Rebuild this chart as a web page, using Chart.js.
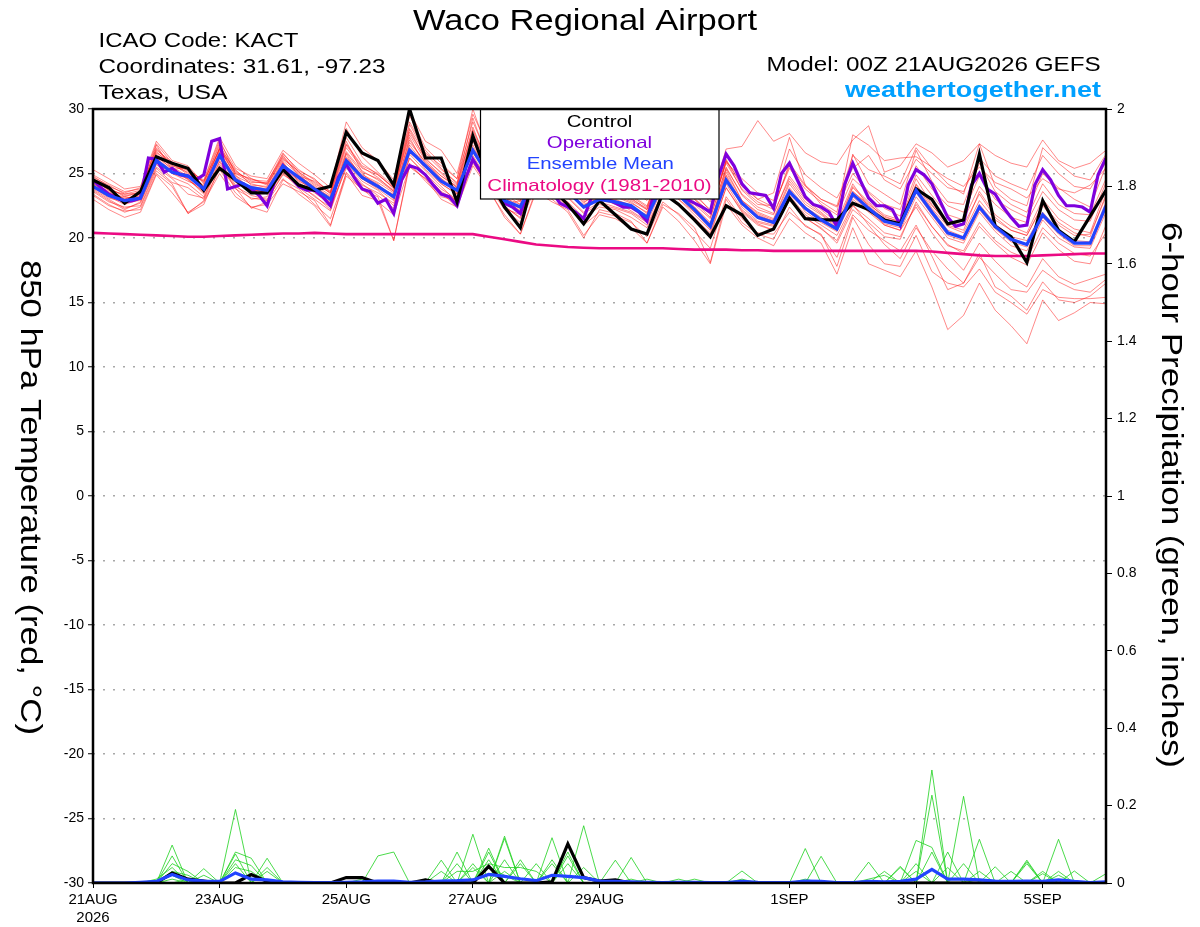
<!DOCTYPE html>
<html lang="en">
<head>
  <meta charset="UTF-8" />
  <title>Waco Regional Airport | GEFS 850 hPa</title>
  <script src="https://cdn.jsdelivr.net/npm/chart.js"></script>
  <style>
    html, body { margin: 0; padding: 0; background: #fff; }
    canvas { display: block; }
  </style>
</head>
<body>
  <canvas id="gefsChart" width="1200" height="927"></canvas>

  <script>
    // Forecast hours run 00Z 21AUG2026 .. +384h (6-hourly, operational 3-hourly)
    const xTickHours = [0, 48, 96, 144, 192, 264, 312, 360];
    const xTickLabels = [["21AUG", "2026"], "23AUG", "25AUG", "27AUG", "29AUG", "1SEP", "3SEP", "5SEP"];

    // 850 hPa temperature, deg C, every 6h
    const controlTemp = [
      24.5, 23.9, 22.7, 23.6, 26.3, 25.8, 25.4, 23.7, 25.4, 24.5, 23.5, 23.5, 25.3, 24.1, 23.7, 24.0,
      28.2, 26.6, 26.0, 24.1, 30.0, 26.2, 26.2, 22.8, 27.9, 24.6, 22.4, 20.8, 25.4, 23.8, 22.6, 21.1,
      22.9, 21.8, 20.7, 20.3, 23.5, 22.6, 21.4, 20.1, 22.5, 21.8, 20.2, 20.7, 23.1, 21.5, 21.4, 21.4,
      22.7, 22.2, 21.4, 21.1, 23.8, 23.0, 21.1, 21.4, 26.5, 20.9, 20.1, 18.1, 22.9, 20.6, 19.7, 21.7,
      23.7
    ];
    const meanTemp = [
      24.0, 23.3, 22.9, 23.1, 26.0, 25.1, 24.8, 23.8, 26.4, 24.5, 23.9, 23.7, 25.6, 24.7, 23.8, 23.0,
      26.0, 24.7, 24.0, 23.2, 26.8, 25.6, 24.4, 23.7, 26.8, 24.8, 22.9, 22.4, 25.0, 24.2, 23.6, 22.4,
      23.0, 22.8, 22.5, 21.6, 24.2, 23.3, 22.2, 20.9, 24.5, 22.7, 21.6, 21.2, 23.6, 22.3, 21.4, 20.7,
      23.4, 22.3, 21.3, 21.0, 23.7, 22.0, 20.4, 20.0, 22.4, 20.9, 19.9, 19.5, 21.8, 20.5, 19.6, 19.6,
      22.5
    ];
    const climTemp = [
      20.4, 20.35, 20.3, 20.25, 20.2, 20.15, 20.1, 20.1, 20.15, 20.2, 20.25, 20.3, 20.35, 20.35, 20.4, 20.35,
      20.3, 20.3, 20.3, 20.3, 20.3, 20.3, 20.3, 20.3, 20.3, 20.1, 19.9, 19.7, 19.5, 19.4, 19.3, 19.25,
      19.2, 19.2, 19.2, 19.2, 19.2, 19.15, 19.1, 19.1, 19.1, 19.05, 19.05, 19.0, 19.0, 19.0, 19.0, 19.0,
      19.0, 19.0, 19.0, 19.0, 19.0, 18.95, 18.85, 18.75, 18.65, 18.6, 18.6, 18.6, 18.65, 18.7, 18.75, 18.8,
      18.8
    ];
    // operational run, every 3h
    const operTemp = [
      24.5, 23.9, 23.4, 23.1, 22.8, 22.9, 23.1, 26.2, 26.1, 25.1, 25.4, 24.9, 24.8, 24.5, 24.9, 27.5,
      27.7, 23.8, 24.0, 24.2, 23.8, 23.3, 22.5, 24.5, 25.6, 24.7, 24.0, 23.7, 23.7, 23.2, 22.5, 24.7,
      25.7, 24.7, 23.8, 23.6, 22.7, 23.0, 21.9, 24.5, 25.6, 25.4, 24.9, 24.1, 23.4, 23.2, 22.5, 24.5,
      26.1, 25.1, 24.2, 23.4, 22.7, 22.4, 21.9, 23.8, 25.0, 24.4, 23.6, 22.7, 22.4, 22.0, 21.5, 23.2,
      23.6, 23.0, 22.7, 22.4, 22.4, 22.0, 21.3, 23.8, 25.0, 24.6, 23.8, 23.0, 22.7, 22.4, 22.0, 24.7,
      26.5, 25.6, 24.2, 23.5, 23.4, 23.3, 22.3, 25.0, 25.8, 24.5, 23.2, 22.6, 22.4, 22.0, 20.9, 24.2,
      25.8, 24.4, 23.1, 22.5, 22.5, 22.2, 21.0, 24.1, 25.3, 24.9, 24.2, 22.9, 21.6, 20.9, 21.1, 24.1,
      25.0, 23.8, 23.4, 22.4, 21.6, 20.9, 21.0, 24.1, 25.3, 24.5, 23.3, 22.5, 22.5, 22.4, 22.0, 24.9,
      26.2
    ];

    // ensemble members (red), every 6h
    const m01 = [
      25.3, 24.6, 23.8, 24.0, 27.5, 26.0, 25.6, 24.2, 27.4, 25.4, 24.8, 24.6, 26.8, 25.8, 24.9, 23.9,
      29.0, 27.0, 26.0, 24.5, 29.8, 27.5, 26.8, 25.0, 29.6, 27.0, 25.5, 24.0, 28.5, 26.5, 25.2, 24.0,
      25.5, 24.6, 23.8, 22.9, 26.8, 25.6, 24.0, 22.8, 26.9, 27.1, 29.1, 27.5, 28.1, 26.6, 25.9, 25.7,
      27.6, 28.7, 25.1, 25.6, 27.3, 26.6, 25.5, 26.0, 27.3, 26.4, 25.8, 25.5, 27.6, 26.0, 25.4, 25.8,
      26.8
    ];
    const m02 = [
      24.8, 24.0, 23.5, 23.9, 27.3, 25.8, 25.2, 24.5, 27.8, 25.6, 24.6, 24.2, 26.5, 25.3, 24.5, 23.6,
      28.5, 26.3, 25.1, 24.0, 29.5, 27.0, 25.8, 24.6, 30.0, 26.5, 24.5, 23.5, 27.2, 25.8, 24.6, 23.3,
      24.4, 23.9, 23.2, 22.4, 25.8, 24.5, 23.0, 22.0, 26.0, 24.2, 23.0, 23.5, 27.8, 24.1, 23.0, 22.5,
      26.4, 25.3, 24.8, 24.2, 27.0, 25.4, 24.6, 24.0, 25.5, 24.3, 23.8, 23.1, 24.6, 23.8, 23.5, 24.1,
      25.4
    ];
    const m03 = [
      24.2, 23.5, 23.0, 23.4, 26.3, 25.4, 24.5, 23.6, 26.8, 24.9, 23.6, 23.8, 25.9, 24.3, 23.5, 22.6,
      26.2, 24.9, 24.3, 23.5, 27.6, 25.8, 24.8, 23.9, 27.5, 25.0, 23.2, 22.0, 25.6, 24.5, 23.9, 22.8,
      23.4, 22.9, 22.1, 21.3, 24.9, 23.6, 22.4, 21.2, 25.1, 22.9, 22.0, 21.5, 24.4, 22.8, 21.9, 20.9,
      24.0, 22.8, 21.8, 21.4, 24.1, 22.3, 20.9, 20.4, 22.9, 21.4, 20.6, 20.2, 22.5, 21.0, 20.2, 20.3,
      23.2
    ];
    const m04 = [
      23.6, 22.8, 22.4, 22.5, 25.4, 24.3, 23.9, 23.0, 25.7, 24.0, 23.3, 23.0, 24.9, 24.2, 23.2, 22.4,
      25.4, 24.1, 23.5, 22.7, 26.2, 25.0, 23.8, 23.0, 26.1, 24.2, 22.3, 21.8, 24.6, 23.7, 23.1, 21.9,
      22.6, 22.3, 21.9, 21.0, 23.5, 22.5, 21.5, 20.4, 23.9, 22.0, 21.0, 20.6, 22.9, 21.6, 20.7, 19.8,
      22.5, 21.5, 20.4, 20.1, 22.6, 20.9, 19.5, 18.8, 20.9, 19.6, 18.5, 17.9, 20.4, 19.1, 18.2, 18.0,
      21.0
    ];
    const m05 = [
      23.0, 22.2, 21.6, 22.0, 24.9, 23.5, 22.0, 22.8, 25.0, 23.2, 22.4, 22.6, 24.2, 23.6, 22.9, 21.0,
      24.8, 23.8, 22.8, 21.8, 25.5, 24.6, 23.0, 22.4, 25.6, 23.8, 21.6, 20.3, 23.6, 22.8, 22.2, 20.2,
      21.8, 21.5, 20.8, 19.6, 22.4, 21.3, 19.8, 18.0, 22.6, 21.0, 20.0, 19.4, 21.5, 20.4, 19.6, 17.2,
      20.8, 18.0, 17.5, 17.0, 19.0, 16.2, 12.9, 14.0, 16.5, 14.4, 13.2, 11.8, 15.2, 13.6, 14.2, 15.0,
      14.9
    ];
    const m06 = [
      23.3, 22.5, 22.1, 22.2, 25.0, 24.0, 21.9, 22.9, 25.3, 23.5, 22.4, 22.0, 24.5, 23.8, 22.6, 21.5,
      25.0, 23.3, 22.9, 19.8, 25.8, 24.4, 23.2, 22.9, 25.8, 24.0, 22.2, 21.2, 24.0, 23.4, 22.5, 21.0,
      22.0, 21.7, 21.2, 20.1, 22.8, 21.8, 20.5, 19.2, 23.2, 21.5, 20.4, 20.3, 22.0, 21.0, 20.2, 18.5,
      21.8, 20.6, 19.8, 19.0, 21.0, 18.6, 16.0, 16.5, 18.8, 16.2, 15.5, 14.4, 16.6, 15.2, 15.0, 15.5,
      16.5
    ];
    const m07 = [
      24.6, 23.9, 23.2, 23.6, 26.8, 25.9, 25.0, 24.4, 26.9, 25.2, 24.4, 24.2, 26.2, 25.0, 24.1, 23.3,
      27.0, 25.4, 24.9, 23.9, 28.5, 26.5, 25.3, 24.3, 28.4, 25.8, 23.8, 23.0, 26.4, 25.1, 24.5, 23.1,
      23.9, 23.5, 22.9, 22.2, 25.4, 24.3, 23.0, 21.8, 26.0, 23.7, 22.6, 22.5, 25.4, 23.8, 22.8, 22.0,
      28.0, 27.2, 26.0, 26.2, 26.3, 25.5, 24.2, 23.4, 27.3, 24.0, 23.0, 22.5, 27.0, 25.8, 24.8, 24.5,
      26.5
    ];
    const m08 = [
      24.0, 23.2, 22.6, 23.0, 26.1, 25.0, 24.6, 23.4, 26.2, 24.3, 23.8, 23.5, 25.4, 24.5, 23.6, 22.8,
      26.5, 24.6, 23.8, 22.9, 27.0, 25.3, 24.2, 23.4, 26.9, 24.6, 22.6, 22.9, 25.2, 24.0, 23.4, 22.6,
      23.1, 22.6, 22.3, 21.8, 24.5, 23.0, 22.0, 21.0, 24.8, 22.4, 21.3, 21.0, 23.8, 22.0, 21.2, 20.5,
      23.0, 22.0, 21.0, 20.6, 23.2, 21.6, 20.0, 19.6, 22.0, 20.5, 19.4, 19.0, 21.4, 20.0, 19.3, 19.2,
      22.0
    ];
    const m09 = [
      23.8, 23.0, 22.3, 22.7, 25.7, 24.7, 24.2, 23.2, 26.0, 24.1, 23.0, 23.2, 25.1, 24.0, 23.3, 22.2,
      25.8, 24.4, 23.7, 22.5, 26.5, 25.2, 24.0, 22.8, 26.4, 24.4, 22.5, 21.5, 24.9, 23.8, 23.2, 22.0,
      22.8, 22.4, 22.0, 21.2, 23.9, 23.0, 21.8, 20.6, 24.2, 22.2, 21.2, 20.9, 23.3, 21.8, 21.0, 20.2,
      22.6, 21.0, 19.5, 18.4, 20.8, 19.0, 17.6, 16.5, 18.5, 17.2, 16.0, 15.8, 17.5, 16.6, 16.0, 15.8,
      16.8
    ];
    const m10 = [
      24.4, 23.8, 23.3, 23.4, 26.7, 25.6, 25.1, 24.0, 27.0, 24.8, 24.2, 23.9, 26.0, 24.9, 23.9, 23.2,
      26.7, 25.2, 24.5, 23.6, 28.0, 26.0, 24.8, 24.0, 28.3, 25.4, 23.4, 22.6, 26.0, 25.0, 24.2, 22.9,
      23.6, 23.2, 22.7, 22.0, 25.0, 24.0, 22.6, 21.5, 25.5, 23.3, 22.2, 21.8, 24.8, 23.2, 22.2, 21.2,
      24.2, 22.4, 21.0, 20.6, 22.4, 20.4, 18.8, 17.5, 19.6, 18.2, 17.0, 16.2, 18.4, 17.0, 16.4, 16.8,
      17.2
    ];
    const m11 = [
      24.1, 23.4, 23.1, 23.2, 26.5, 25.5, 24.8, 23.7, 26.6, 24.7, 23.9, 23.4, 25.8, 24.6, 23.7, 22.9,
      26.0, 24.8, 24.1, 23.3, 27.2, 25.6, 24.4, 23.6, 27.2, 24.9, 23.0, 22.3, 25.4, 24.3, 23.7, 22.5,
      23.3, 22.8, 22.4, 21.5, 24.6, 23.4, 22.3, 20.9, 24.9, 22.7, 21.7, 21.3, 23.9, 22.4, 21.6, 20.6,
      23.6, 22.6, 21.7, 21.2, 24.2, 22.5, 21.2, 21.0, 23.4, 21.6, 20.6, 20.2, 22.6, 21.2, 20.4, 20.1,
      23.4
    ];
    const m12 = [
      24.9, 24.2, 23.6, 23.8, 26.9, 25.7, 25.4, 24.3, 27.2, 25.1, 24.5, 24.4, 26.3, 25.1, 24.2, 23.5,
      27.3, 25.6, 25.0, 23.8, 28.8, 26.6, 25.6, 24.6, 29.0, 26.2, 24.0, 23.2, 26.8, 25.4, 24.8, 23.5,
      24.2, 23.8, 23.3, 22.5, 25.6, 24.6, 23.3, 22.2, 26.1, 24.0, 23.0, 22.4, 25.6, 24.0, 23.0, 22.4,
      25.0, 23.6, 22.6, 22.2, 25.6, 23.8, 22.5, 22.0, 24.8, 23.0, 22.2, 21.6, 24.2, 22.6, 21.9, 21.8,
      24.6
    ];
    const m13 = [
      23.9, 23.1, 22.8, 22.9, 25.8, 25.0, 24.4, 23.9, 26.3, 24.6, 23.7, 23.6, 25.5, 24.8, 24.0, 23.1,
      25.9, 24.6, 23.9, 23.4, 26.6, 25.7, 24.6, 23.8, 26.6, 24.9, 23.1, 22.6, 25.1, 24.4, 23.5, 22.3,
      22.9, 22.7, 22.4, 21.7, 24.0, 23.2, 22.0, 20.7, 24.3, 22.6, 21.5, 21.1, 23.4, 22.2, 21.3, 20.6,
      23.2, 22.1, 21.1, 20.8, 23.5, 21.8, 20.2, 19.8, 22.2, 20.7, 19.7, 19.3, 21.6, 20.3, 19.4, 19.4,
      22.3
    ];
    const m14 = [
      24.3, 23.6, 22.9, 23.3, 26.2, 25.2, 24.9, 23.6, 26.5, 24.4, 24.0, 23.8, 25.7, 24.6, 23.9, 23.0,
      26.3, 24.8, 24.2, 23.0, 27.4, 25.9, 24.6, 23.5, 27.0, 25.1, 23.3, 22.2, 25.3, 24.1, 23.5, 22.4,
      23.2, 22.9, 22.6, 21.5, 24.4, 23.4, 22.3, 21.1, 24.6, 22.8, 21.8, 21.3, 23.7, 22.4, 21.5, 20.8,
      23.6, 22.5, 21.5, 21.1, 23.9, 22.2, 20.6, 20.1, 22.6, 21.1, 20.1, 19.8, 22.0, 20.6, 19.8, 19.7,
      22.8
    ];
    const m15 = [
      23.4, 22.6, 22.0, 22.4, 25.2, 24.2, 21.9, 22.6, 25.5, 23.9, 22.3, 22.8, 24.6, 23.4, 22.5, 20.9,
      25.1, 23.7, 23.2, 19.8, 25.6, 24.6, 23.5, 22.4, 26.0, 23.7, 21.8, 20.3, 23.8, 23.0, 22.0, 20.0,
      22.2, 21.9, 21.3, 19.6, 22.6, 21.9, 20.8, 18.1, 23.0, 21.2, 20.3, 19.9, 22.4, 20.9, 20.3, 17.8,
      21.6, 19.5, 18.0, 17.8, 20.2, 17.4, 16.5, 16.2, 17.6, 15.8, 15.0, 14.1, 16.0, 15.4, 15.3, 15.3,
      15.4
    ];
    const m16 = [
      24.7, 24.1, 23.4, 23.7, 27.0, 25.6, 25.3, 24.4, 27.6, 25.0, 24.3, 24.3, 26.6, 25.1, 24.3, 23.5,
      27.8, 25.8, 24.9, 23.9, 29.0, 26.8, 25.4, 24.2, 29.3, 25.9, 24.1, 23.2, 26.9, 25.5, 24.4, 23.2,
      24.0, 23.6, 23.0, 22.3, 25.9, 24.8, 23.5, 22.1, 25.8, 23.8, 22.8, 22.2, 25.8, 24.1, 22.6, 21.8,
      24.6, 23.5, 22.3, 21.7, 24.9, 23.3, 21.8, 21.4, 24.0, 22.6, 21.6, 21.2, 23.6, 22.2, 21.4, 21.3,
      24.3
    ];
    const m17 = [
      24.6, 23.7, 23.0, 23.5, 27.2, 25.3, 25.5, 23.9, 27.0, 25.3, 24.1, 24.0, 26.4, 24.8, 24.4, 23.6,
      27.5, 25.1, 24.6, 23.7, 28.2, 26.2, 25.0, 23.9, 28.0, 25.6, 23.6, 22.8, 26.5, 24.8, 24.0, 22.7,
      23.7, 23.3, 22.8, 21.9, 25.2, 23.9, 22.8, 21.6, 25.4, 23.4, 22.4, 21.9, 24.6, 23.0, 22.0, 21.0,
      26.5, 24.2, 23.4, 22.6, 26.8, 24.4, 22.8, 22.6, 25.8, 23.6, 22.6, 22.0, 25.0, 23.9, 23.0, 22.4,
      25.6
    ];
    const m18 = [
      23.7, 22.9, 22.2, 22.8, 25.5, 24.6, 23.4, 23.1, 25.9, 23.8, 23.1, 22.9, 25.0, 23.9, 23.0, 22.1,
      25.6, 24.2, 23.3, 22.3, 26.2, 24.9, 23.6, 22.9, 26.2, 24.3, 22.4, 21.6, 24.4, 23.5, 22.8, 21.6,
      22.4, 22.2, 21.6, 20.8, 23.6, 22.7, 21.6, 20.2, 23.9, 22.1, 21.1, 20.6, 23.0, 21.5, 20.8, 19.6,
      22.2, 21.2, 20.1, 19.9, 22.8, 20.9, 19.4, 19.0, 21.2, 19.8, 18.9, 18.4, 20.8, 19.6, 18.8, 18.6,
      20.4
    ];
    const m19 = [
      24.2, 23.4, 23.2, 23.0, 26.4, 25.3, 24.6, 23.5, 26.7, 24.6, 23.5, 23.6, 25.8, 24.4, 23.8, 22.7,
      26.6, 25.0, 24.0, 23.1, 27.8, 25.5, 24.2, 23.4, 27.8, 25.2, 23.0, 22.1, 25.5, 24.4, 23.8, 22.4,
      23.5, 23.0, 22.5, 21.4, 24.8, 23.5, 22.4, 21.0, 25.3, 22.9, 21.9, 21.4, 24.2, 22.6, 21.8, 20.8,
      23.9, 22.7, 21.6, 21.3, 24.6, 22.6, 21.0, 20.6, 23.6, 21.8, 20.9, 20.4, 23.0, 21.5, 20.7, 20.4,
      23.8
    ];
    const m20 = [
      24.5, 23.7, 23.4, 23.5, 26.6, 25.8, 24.9, 24.1, 26.9, 25.0, 24.6, 24.1, 26.1, 25.2, 24.6, 23.4,
      27.2, 25.5, 24.7, 23.6, 28.4, 26.1, 25.1, 24.1, 28.6, 25.5, 23.7, 22.9, 26.2, 25.2, 24.3, 23.0,
      23.8, 23.4, 23.1, 22.2, 25.1, 24.1, 23.1, 21.9, 25.9, 24.6, 23.5, 22.9, 26.9, 24.9, 23.9, 23.1,
      25.4, 26.4, 24.5, 23.8, 26.1, 25.0, 23.9, 23.6, 26.2, 24.8, 24.2, 23.7, 26.4, 25.0, 24.0, 23.8,
      25.9
    ];
    const tempMembers = [m01, m02, m03, m04, m05, m06, m07, m08, m09, m10,
                         m11, m12, m13, m14, m15, m16, m17, m18, m19, m20];

    // 6-hour precipitation, inches, every 6h
    const controlPrecip = [
      0, 0, 0, 0, 0, 0.026, 0.01, 0.005, 0, 0, 0.022, 0.004, 0, 0, 0, 0,
      0.014, 0.014, 0, 0, 0, 0.008, 0, 0, 0, 0.043, 0, 0, 0, 0.003, 0.101, 0.014,
      0.005, 0.008, 0, 0, 0, 0, 0, 0, 0, 0, 0, 0, 0, 0, 0, 0,
      0, 0, 0, 0, 0, 0, 0, 0, 0, 0, 0, 0, 0, 0, 0, 0,
      0
    ];
    const meanPrecip = [
      0, 0, 0, 0.002, 0.004, 0.022, 0.008, 0.005, 0.004, 0.026, 0.01, 0.008, 0.003, 0.002, 0.001, 0.001,
      0.002, 0.003, 0.005, 0.005, 0.002, 0.003, 0.005, 0.006, 0.008, 0.022, 0.017, 0.011, 0.006, 0.02, 0.017, 0.014,
      0.005, 0.004, 0.003, 0.002, 0.001, 0.002, 0.002, 0.001, 0.001, 0.004, 0.002, 0.001, 0.001, 0.005, 0.004, 0.001,
      0.001, 0.004, 0.003, 0.004, 0.01, 0.035, 0.01, 0.01, 0.008, 0.005, 0.004, 0.005, 0.004, 0.008, 0.004, 0.001,
      0.003
    ];
    // member precip (green): [hour, inches]; hours not listed are dry
    const p01 = [[30, 0.098], [54, 0.19], [66, 0.03], [144, 0.126], [156, 0.03], [186, 0.148], [204, 0.066], [318, 0.292], [330, 0.05], [366, 0.113]];
    const p02 = [[30, 0.07], [42, 0.037], [54, 0.08], [60, 0.064], [108, 0.07], [114, 0.08], [150, 0.09], [174, 0.117], [270, 0.089], [318, 0.227], [336, 0.03], [354, 0.059]];
    const p03 = [[30, 0.05], [36, 0.03], [54, 0.075], [66, 0.064], [138, 0.08], [156, 0.121], [180, 0.08], [312, 0.11], [318, 0.092], [330, 0.224], [342, 0.042]];
    const p04 = [[24, 0.01], [30, 0.04], [54, 0.06], [60, 0.045], [132, 0.059], [150, 0.08], [162, 0.06], [198, 0.059], [276, 0.069], [318, 0.08], [336, 0.113], [360, 0.024]];
    const p05 = [[30, 0.03], [36, 0.02], [54, 0.05], [66, 0.04], [144, 0.05], [156, 0.115], [168, 0.05], [180, 0.07], [246, 0.031], [294, 0.054], [306, 0.043], [354, 0.055], [372, 0.031]];
    const p06 = [[30, 0.02], [42, 0.02], [54, 0.04], [60, 0.03], [138, 0.05], [150, 0.06], [162, 0.05], [174, 0.06], [300, 0.03], [312, 0.05], [324, 0.08], [354, 0.05], [366, 0.03]];
    const p07 = [[24, 0.005], [36, 0.01], [132, 0.03], [144, 0.04], [156, 0.06], [174, 0.05], [186, 0.04], [228, 0.01], [306, 0.04], [324, 0.04], [348, 0.03], [366, 0.02], [384, 0.024]];
    const p08 = [[138, 0.03], [144, 0.03], [150, 0.05], [156, 0.04], [162, 0.04], [168, 0.03], [180, 0.05], [204, 0.01], [222, 0.01], [246, 0.01], [270, 0.01], [294, 0.01], [300, 0.02], [312, 0.03], [360, 0.03]];
    const p09 = [[30, 0.01], [102, 0.01], [126, 0.01], [150, 0.04], [156, 0.02], [210, 0.01], [336, 0.01]];
    const precipMembers = [p01, p02, p03, p04, p05, p06, p07, p08, p09];

    const FONT = '"Liberation Sans", Arial, Helvetica, sans-serif';
    const RED = "rgba(255,20,20,0.5)";
    const GREEN = "rgba(30,210,30,0.8)";
    const PURPLE = "#7f00dd";
    const BLUE = "#2244ff";
    const MAGENTA = "#eb0a83";

    // series helpers: index -> forecast hour
    const every6 = (vals) => vals.map((v, i) => ({ x: i * 6, y: v }));
    const every3 = (vals) => vals.map((v, i) => ({ x: i * 3, y: v }));
    function fromPairs(pairs) {
      const out = [];
      for (let h = 0; h <= 384; h += 6) {
        const p = pairs.find((q) => q[0] === h);
        out.push({ x: h, y: p ? p[1] : 0 });
      }
      return out;
    }

    [controlTemp, meanTemp, climTemp, controlPrecip, meanPrecip].concat(tempMembers).forEach((a, i) => {
      if (a.length !== 65) throw new Error("series " + i + " has " + a.length + " values");
    });
    if (operTemp.length !== 129) throw new Error("operTemp has " + operTemp.length);

    const datasets = [];
    // lower "order" is drawn on top
    datasets.push({ label: "Ensemble Mean", data: every6(meanTemp), borderColor: BLUE, borderWidth: 3.2, yAxisID: "y", order: 1 });
    datasets.push({ label: "Control", data: every6(controlTemp), borderColor: "#000", borderWidth: 3.2, yAxisID: "y", order: 2 });
    datasets.push({ label: "Operational", data: every3(operTemp), borderColor: PURPLE, borderWidth: 3.2, yAxisID: "y", order: 3 });
    datasets.push({ label: "Mean precip", data: every6(meanPrecip), borderColor: BLUE, borderWidth: 3.2, yAxisID: "y1", order: 4 });
    datasets.push({ label: "Control precip", data: every6(controlPrecip), borderColor: "#000", borderWidth: 3.2, yAxisID: "y1", order: 5 });
    datasets.push({ label: "Climatology", data: every6(climTemp), borderColor: MAGENTA, borderWidth: 2.6, yAxisID: "y", order: 6 });
    tempMembers.forEach((m, i) => {
      datasets.push({ label: "Member " + (i + 1), data: every6(m), borderColor: RED, borderWidth: 1, yAxisID: "y", order: 7 });
    });
    precipMembers.forEach((p, i) => {
      datasets.push({ label: "Member precip " + (i + 1), data: fromPairs(p), borderColor: GREEN, borderWidth: 1, yAxisID: "y1", order: 8 });
    });

    // stretch a string to the width it has on the original plot
    function fitText(ctx, text, x, y, width, font, color, align) {
      ctx.save();
      ctx.font = font;
      ctx.fillStyle = color;
      ctx.textAlign = "left";
      ctx.textBaseline = "alphabetic";
      const w = ctx.measureText(text).width;
      const x0 = align === "center" ? x - width / 2 : align === "right" ? x - width : x;
      ctx.translate(x0, y);
      ctx.scale(width / w, 1);
      ctx.fillText(text, 0, 0);
      ctx.restore();
    }
    // vertical text, read top to bottom
    function fitTextDown(ctx, text, x, y, length, font, color) {
      ctx.save();
      ctx.font = font;
      ctx.fillStyle = color;
      ctx.textAlign = "left";
      ctx.textBaseline = "alphabetic";
      const w = ctx.measureText(text).width;
      ctx.translate(x, y);
      ctx.rotate(Math.PI / 2);
      ctx.scale(length / w, 1);
      ctx.fillText(text, 0, 0);
      ctx.restore();
    }

    const decorations = {
      id: "decorations",
      beforeDraw(chart) {
        const ctx = chart.ctx;
        ctx.save();
        ctx.fillStyle = "#fff";
        ctx.fillRect(0, 0, chart.width, chart.height);
        ctx.restore();
      },
      afterDatasetsDraw(chart) {
        const { ctx, chartArea: a } = chart;
        ctx.save();
        // legend box
        ctx.fillStyle = "#fff";
        ctx.fillRect(480.5, 109, 238.5, 90);
        ctx.strokeStyle = "#000";
        ctx.lineWidth = 1.2;
        ctx.strokeRect(480.5, 109, 238.5, 90);
        ctx.restore();
        const lf = "16.5px " + FONT;
        fitText(ctx, "Control", 599.5, 127, 65.7, lf, "#000", "center");
        fitText(ctx, "Operational", 599.5, 148, 105.3, lf, PURPLE, "center");
        fitText(ctx, "Ensemble Mean", 600.3, 169, 147.3, lf, BLUE, "center");
        fitText(ctx, "Climatology (1981-2010)", 599.5, 190.5, 224.3, lf, MAGENTA, "center");
        // plot frame
        ctx.save();
        ctx.strokeStyle = "#000";
        ctx.lineWidth = 2.5;
        ctx.strokeRect(a.left, a.top, a.right - a.left, a.bottom - a.top);
        ctx.restore();
      },
      afterDraw(chart) {
        const ctx = chart.ctx;
        fitText(ctx, "Waco Regional Airport", 585, 29.5, 344, "29px " + FONT, "#000", "center");
        fitText(ctx, "ICAO Code: KACT", 98.5, 46.7, 200, "20px " + FONT, "#000", "left");
        fitText(ctx, "Coordinates: 31.61, -97.23", 98.5, 72.7, 287, "20px " + FONT, "#000", "left");
        fitText(ctx, "Texas, USA", 98.5, 99.3, 129, "20px " + FONT, "#000", "left");
        fitText(ctx, "Model: 00Z 21AUG2026 GEFS", 1100.6, 70.7, 334, "20px " + FONT, "#000", "right");
        fitText(ctx, "weathertogether.net", 1101, 96.7, 256, "bold 22px " + FONT, "#00a0ff", "right");
        fitTextDown(ctx, "850 hPa Temperature (red, \u00B0C)", 20.7, 260, 475, "30px " + FONT, "#000");
        fitTextDown(ctx, "6-hour Precipitation (green, inches)", 1162, 222, 546, "30px " + FONT, "#000");
      }
    };

    const ctx = document.getElementById("gefsChart").getContext("2d");
    new Chart(ctx, {
      type: "line",
      data: { datasets: datasets },
      plugins: [decorations],
      options: {
        responsive: false,
        animation: false,
        events: [],
        layout: { padding: { top: 109, left: 0, right: 0, bottom: 0 } },
        elements: {
          point: { radius: 0 },
          line: { tension: 0, fill: false, borderJoinStyle: "miter" }
        },
        plugins: {
          legend: { display: false },
          tooltip: { enabled: false },
          title: { display: false }
        },
        scales: {
          x: {
            type: "linear",
            min: 0,
            max: 384,
            afterBuildTicks: (scale) => {
              scale.ticks = xTickHours.map((h) => ({ value: h }));
            },
            afterFit: (scale) => { scale.height = 44; },
            grid: { drawOnChartArea: false, drawTicks: true, tickLength: 5, tickColor: "#000", tickWidth: 1 },
            border: { display: false },
            ticks: {
              autoSkip: false,
              maxRotation: 0,
              padding: 3,
              color: "#000",
              font: { family: FONT, size: 15, lineHeight: 1.2 },
              callback: (value, index) => xTickLabels[index]
            }
          },
          y: {
            position: "left",
            min: -30,
            max: 30,
            afterFit: (scale) => { scale.width = 93; },
            grid: { color: "#a8a8a8", lineWidth: 1.5, drawTicks: true, tickLength: 5, tickColor: "#000", tickWidth: 1 },
            border: { display: false, dash: [2, 8] },
            ticks: {
              stepSize: 5,
              autoSkip: false,
              padding: 4,
              color: "#000",
              font: { family: FONT, size: 14 },
              callback: (v) => String(v)
            }
          },
          y1: {
            position: "right",
            min: 0,
            max: 2,
            afterFit: (scale) => { scale.width = 94; },
            grid: { drawOnChartArea: false, drawTicks: true, tickLength: 6, tickColor: "#000", tickWidth: 1 },
            border: { display: false },
            ticks: {
              stepSize: 0.2,
              autoSkip: false,
              padding: 5,
              color: "#000",
              font: { family: FONT, size: 14 },
              callback: (v) => String(+v.toFixed(1))
            }
          }
        }
      }
    });
  </script>
</body>
</html>
